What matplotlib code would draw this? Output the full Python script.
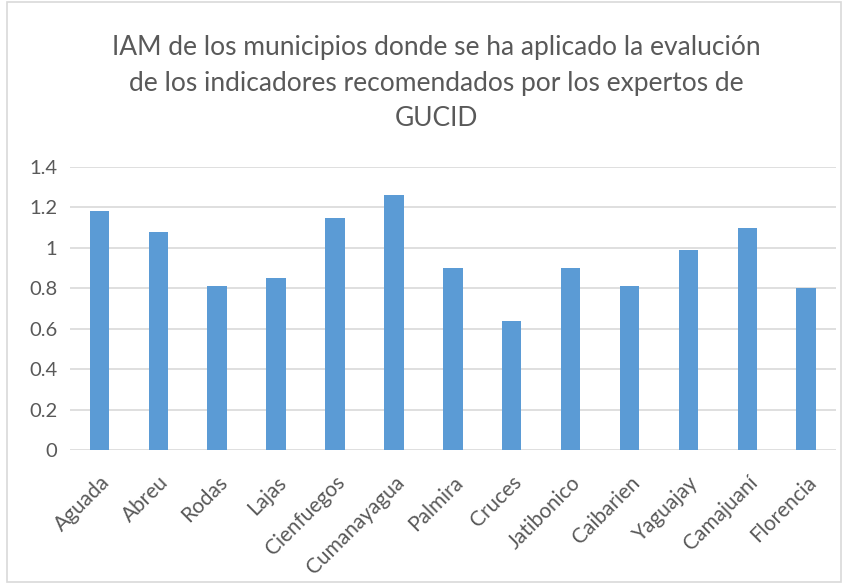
import matplotlib
matplotlib.use('Agg')
import matplotlib.pyplot as plt
from matplotlib.patches import Rectangle

plt.rcParams['font.family'] = ['Lato', 'DejaVu Sans']

municipios = ['Aguada', 'Abreu', 'Rodas', 'Lajas', 'Cienfuegos', 'Cumanayagua',
              'Palmira', 'Cruces', 'Jatibonico', 'Caibarien', 'Yaguajay',
              'Camajuaní', 'Florencia']
iam = [1.18, 1.08, 0.81, 0.85, 1.15, 1.26, 0.90, 0.64, 0.90, 0.81, 0.99, 1.10, 0.80]
yticks = [0, 0.2, 0.4, 0.6, 0.8, 1, 1.2, 1.4]
ylabels = ['0', '0.2', '0.4', '0.6', '0.8', '1', '1.2', '1.4']

txtcol = '#595959'
gridcol = '#d9d9d9'

fig = plt.figure(figsize=(8.47, 5.86), dpi=100)
ax = fig.add_axes([0.0826, 0.232, 0.904, 0.483])

x = range(len(municipios))
ax.bar(x, iam, width=0.33, color='#5b9bd5', zorder=3)

ax.set_xlim(-0.5, len(municipios) - 0.5)
ax.set_ylim(0, 1.4)
ax.set_yticks(yticks)
ax.set_yticklabels(ylabels, fontsize=14.5, color=txtcol)
ax.set_xticks(list(x))
ax.set_xticklabels(municipios, rotation=45, ha='right', rotation_mode='anchor',
                   fontsize=15, color=txtcol)
ax.tick_params(length=0, pad=9)
ax.tick_params(axis='x', pad=16)
ax.yaxis.grid(True, color=gridcol, lw=1.2, zorder=0)
for s in ax.spines.values():
    s.set_visible(False)

fig.text(0.515, 0.94,
         'IAM de los municipios donde se ha aplicado la evalución\n'
         'de los indicadores recomendados por los expertos de\nGUCID',
         ha='center', va='top', fontsize=19, color=txtcol, linespacing=1.52)

fig.patches.append(Rectangle((0.008, 0.006), 0.985, 0.99, transform=fig.transFigure,
                             fill=False, edgecolor=gridcol, lw=1.2))

fig.savefig('out.png', dpi=100)
